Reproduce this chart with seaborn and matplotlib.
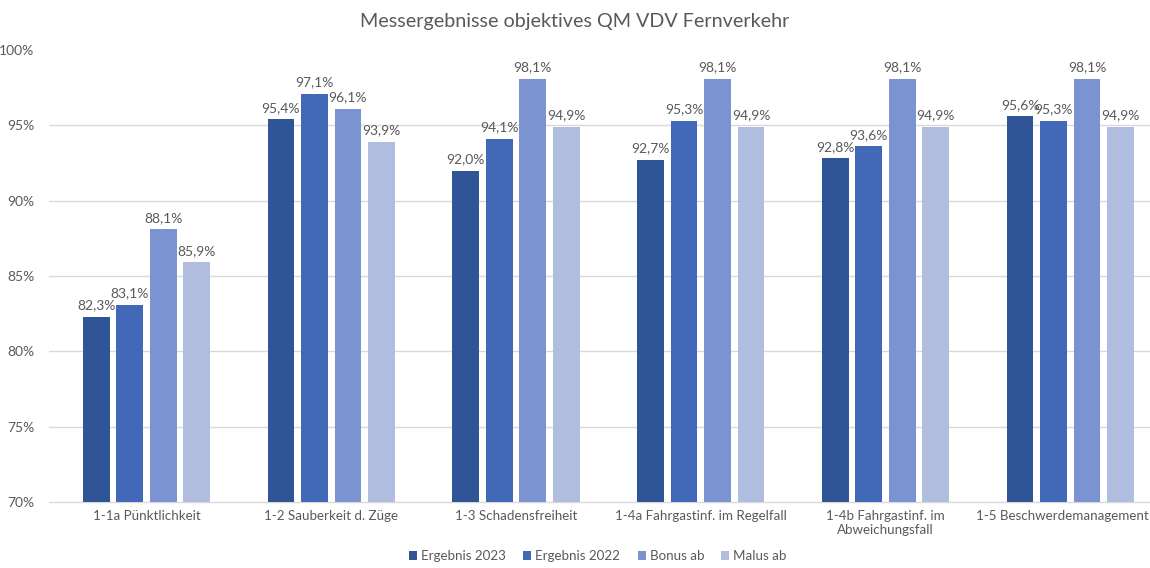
import matplotlib
matplotlib.use("Agg")
import matplotlib.pyplot as plt
from matplotlib.ticker import FuncFormatter
from matplotlib.transforms import ScaledTranslation
import seaborn as sns
import pandas as pd

categories = [
    "1-1a Pünktlichkeit",
    "1-2 Sauberkeit d. Züge",
    "1-3 Schadensfreiheit",
    "1-4a Fahrgastinf. im Regelfall",
    "1-4b Fahrgastinf. im\nAbweichungsfall",
    "1-5 Beschwerdemanagement",
]
series_names = ["Ergebnis 2023", "Ergebnis 2022", "Bonus ab", "Malus ab"]
ergebnis_2023 = [82.3, 95.4, 92.0, 92.7, 92.8, 95.6]
ergebnis_2022 = [83.1, 97.1, 94.1, 95.3, 93.6, 95.3]
bonus_ab = [88.1, 96.1, 98.1, 98.1, 98.1, 98.1]
malus_ab = [85.9, 93.9, 94.9, 94.9, 94.9, 94.9]
y_ticks = [70, 75, 80, 85, 90, 95, 100]

colors = ["#2F5597", "#4169B8", "#7B93D1", "#B1BDDF"]
text_color = "#595959"

rows = []
for name, vals in zip(series_names, [ergebnis_2023, ergebnis_2022, bonus_ab, malus_ab]):
    for cat, v in zip(categories, vals):
        rows.append({"Kategorie": cat, "Serie": name, "Wert": v})
df = pd.DataFrame(rows)

sns.set_theme(style="white")
plt.rcParams["font.family"] = ["Lato", "DejaVu Sans"]

fig = plt.figure(figsize=(11.5, 5.68), dpi=100)
ax = fig.add_axes([0.047, 0.116, 0.964, 0.796])

sns.barplot(data=df, x="Kategorie", y="Wert", hue="Serie", order=categories,
            hue_order=series_names, palette=colors, width=0.725, gap=0.2,
            saturation=1, linewidth=0, ax=ax, legend=True)

ax.set_ylim(70, 100)
ax.set_yticks(y_ticks)
ax.yaxis.set_major_formatter(FuncFormatter(lambda v, p: f"{int(v)}%"))
ax.set_xlim(-0.5, len(categories) - 0.5)

# horizontal gridlines (none at the top value)
for y in y_ticks[:-1]:
    ax.axhline(y, color="#D9D9D9", lw=1.0, zorder=0, clip_on=False,
               xmin=-0.005)

for sp in ax.spines.values():
    sp.set_visible(False)

for cont in ax.containers:
    vals = cont.datavalues
    ax.bar_label(cont, labels=[f"{v:.1f}".replace(".", ",") + "%" for v in vals],
                 padding=4, fontsize=10, color=text_color)

ax.tick_params(axis="y", length=0, labelsize=10, labelcolor=text_color, pad=14)
ax.tick_params(axis="x", length=0, labelsize=9.6, labelcolor=text_color, pad=6)
ax.set_xlabel("")
ax.set_ylabel("")

# keep the last category label inside the figure
last = ax.get_xticklabels()[-1]
last.set_transform(last.get_transform() + ScaledTranslation(-8 / 100, 0, fig.dpi_scale_trans))

fig.text(0.5, 0.962, "Messergebnisse objektives QM VDV Fernverkehr",
         ha="center", va="center", fontsize=14.2, color=text_color)

leg = ax.legend(loc="center", bbox_to_anchor=(0.52, 0.021), bbox_transform=fig.transFigure,
                ncol=4, frameon=False, fontsize=9.6, handlelength=0.6, handleheight=0.6,
                handletextpad=0.3, columnspacing=1.3)
for t in leg.get_texts():
    t.set_color(text_color)

fig.savefig("out.png", dpi=100)
